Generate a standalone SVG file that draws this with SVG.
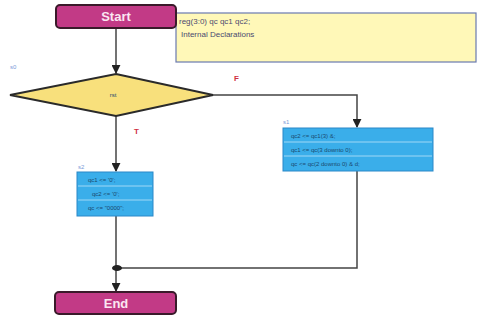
<svg xmlns="http://www.w3.org/2000/svg" width="477" height="321" viewBox="0 0 477 321">
<defs>
<style>
.term{fill:#c23a86;stroke:#3a1a2a;stroke-width:2}
.termtxt{font-family:"Liberation Sans",Arial,sans-serif;font-size:13px;font-weight:bold;fill:#fbe6f2;text-anchor:middle}
.blk{fill:#3aaeea;stroke:#2a88c8;stroke-width:1}
.stripe{stroke:#9fd8f6;stroke-width:1}
.code{font-family:"Liberation Sans",Arial,sans-serif;font-size:6px;fill:#1a4a70}
.lbl{font-family:"Liberation Sans",Arial,sans-serif;font-size:6px;fill:#7a9ad8}
.tf{font-family:"Liberation Sans",Arial,sans-serif;font-size:8px;font-weight:bold;fill:#d03040}
.wire{fill:none;stroke:#444;stroke-width:1.5}
.note{font-family:"Liberation Sans",Arial,sans-serif;font-size:8px;fill:#4a4a70}
</style>
<marker id="arr" viewBox="0 0 10 10" refX="9" refY="5" markerWidth="6" markerHeight="6" orient="auto">
<path d="M0,0 L10,5 L0,10 z" fill="#222"/>
</marker>
</defs>
<rect width="477" height="321" fill="#fff"/>
<g id="note">
<rect x="176" y="13" width="300" height="49" fill="#fff8b8" stroke="#6a7ab0" stroke-width="1.2"/>
<text class="note" x="179" y="24">reg(3:0) qc qc1 qc2;</text>
<text class="note" x="181" y="37">Internal Declarations</text>
</g>
<g id="connectors">
<path class="wire" d="M116,28 V73" marker-end="url(#arr)"/>
<path class="wire" d="M213,95 H357 V127" marker-end="url(#arr)"/>
<path class="wire" d="M116,116 V171" marker-end="url(#arr)"/>
<path class="wire" d="M357,171 V268 H117"/>
<path class="wire" d="M116,216 V291" marker-end="url(#arr)"/>
<ellipse cx="117" cy="268" rx="5" ry="3" fill="#222"/>
<text class="tf" x="234" y="81">F</text>
<text class="tf" x="134" y="134">T</text>
</g>
<g id="start">
<rect class="term" x="56" y="5" width="120" height="23" rx="4"/>
<text class="termtxt" x="116" y="21">Start</text>
</g>
<g id="s0">
<text class="lbl" x="10" y="69">s0</text>
<polygon points="116,74 213,95 116,116 10,95" fill="#f8e07c" stroke="#2a2a2a" stroke-width="1.8"/>
<text class="code" x="113" y="97" text-anchor="middle" fill="#8a8050">rst</text>
</g>
<g id="s1">
<text class="lbl" x="283" y="124">s1</text>
<rect class="blk" x="283" y="128" width="150" height="43"/>
<line class="stripe" x1="284" y1="142" x2="432" y2="142"/>
<line class="stripe" x1="284" y1="156" x2="432" y2="156"/>
<text class="code" x="291" y="138">qc2 &lt;= qc1(3) &amp;;</text>
<text class="code" x="291" y="152">qc1 &lt;= qc(3 downto 0);</text>
<text class="code" x="291" y="166">qc &lt;= qc(2 downto 0) &amp; d;</text>
</g>
<g id="s2">
<text class="lbl" x="78" y="169">s2</text>
<rect class="blk" x="77" y="172" width="76" height="44"/>
<line class="stripe" x1="78" y1="186" x2="152" y2="186"/>
<line class="stripe" x1="78" y1="200" x2="152" y2="200"/>
<text class="code" x="88" y="182">qc1 &lt;= '0';</text>
<text class="code" x="92" y="196">qc2 &lt;= '0';</text>
<text class="code" x="88" y="210">qc &lt;= "0000";</text>
</g>
<g id="end">
<rect class="term" x="55" y="292" width="121" height="22" rx="4"/>
<text class="termtxt" x="116" y="308">End</text>
</g>
</svg>
